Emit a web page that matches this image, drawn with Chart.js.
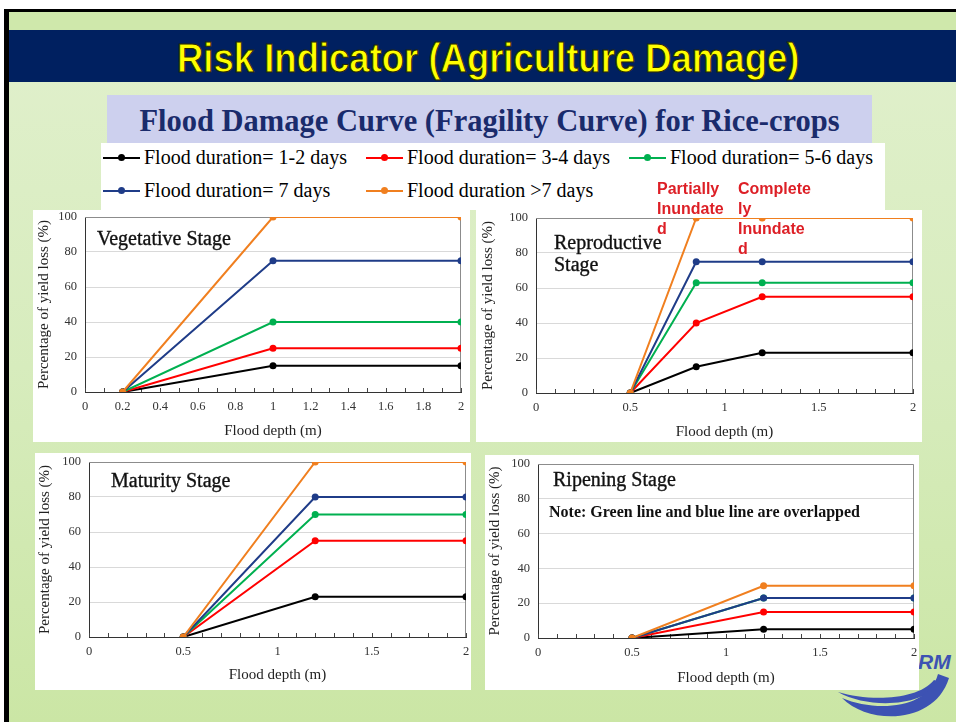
<!DOCTYPE html>
<html>
<head>
<meta charset="utf-8">
<script src="https://cdn.jsdelivr.net/npm/chart.js@4.4.0/dist/chart.umd.min.js"></script>
<style>
  body { margin: 0; width: 956px; height: 722px; overflow: hidden; position: relative; background: #fff; }
  .abs { position: absolute; }
  #frame { left: 4px; top: 9px; width: 952px; height: 713px; background: #000; }
  #bg { left: 9px; top: 12px; width: 947px; height: 710px; background: linear-gradient(to bottom, #e1f0cd 0%, #d7ecbd 50%, #cbe6a5 100%); }
  #strip { left: 9px; top: 12px; width: 947px; height: 18px; background: #cfe8ab; }
  #band { left: 9px; top: 30px; width: 947px; height: 52px; background: #002060; }
  #title { left: 15px; top: 30px; width: 947px; height: 52px; text-align: center;
           font: bold 40px "Liberation Sans", Arial, sans-serif; line-height: 56px; color: #ffff00; }
  #title span { display: inline-block; -webkit-text-stroke: 1px #2b2b00; transform-origin: 50% 50%; white-space: nowrap; }
  #sub { left: 107px; top: 95px; width: 765px; height: 48px; background: #cdd0ee; text-align: center;
         font: bold 30.5px "Liberation Serif", serif; line-height: 52px; color: #1a2b6c; white-space: nowrap; }
  #legend { left: 101px; top: 143px; width: 784px; height: 67px; background: #fff; }
  #legendGrid { position: absolute; left: 2px; top: -2px; display: grid; grid-template-columns: 263px 263px 263px; grid-auto-rows: 33px; }
  .item { display: flex; align-items: center; font: 20px "Liberation Serif", serif; color: #000; white-space: nowrap; }
  .swatch { position: relative; width: 37px; height: 2px; margin-right: 4px; }
  .swatch i { position: absolute; left: 15px; top: -2.5px; width: 7px; height: 7px; border-radius: 50%; }
  .panel { position: absolute; background: #fff; }
  .stage { position: absolute; font: 20px "Liberation Serif", serif; color: #111; white-space: nowrap; line-height: 20px;
           -webkit-text-stroke: 0.35px #111; }
  .note { position: absolute; font: bold 16px "Liberation Serif", serif; color: #111; white-space: nowrap; line-height: 16px; }
  .red { position: absolute; font: bold 16px "Liberation Sans", Arial, sans-serif; color: #dd1f26; line-height: 20px; z-index: 5; }
  #logoText { left: 918px; top: 650px; font: italic bold 21px "Liberation Sans", Arial, sans-serif; color: #3d52b3; }
</style>
</head>
<body>
<div class="abs" id="frame"></div>
<div class="abs" id="bg"></div>
<div class="abs" id="strip"></div>
<div class="abs" id="band"></div>
<div class="abs" id="title"><span id="titleText">Risk Indicator (Agriculture Damage)</span></div>
<div class="abs" id="sub">Flood Damage Curve (Fragility Curve) for Rice-crops</div>
<div class="abs" id="legend"><div id="legendGrid"></div></div>

<div class="abs" id="logoText">RM</div>
<svg class="abs" style="left:830px;top:640px" width="126" height="82">
  <path d="M 8 52 C 40 70 95 66 110 42 L 104 40 C 88 60 40 62 8 52 Z" fill="#3d52b3"/>
  <path d="M 12 58 C 40 86 105 84 119 38 L 108 34 C 98 70 45 72 12 58 Z" fill="#3d52b3"/>
</svg>

<div class="panel" style="left:33px;top:210px;width:437px;height:232px"><canvas id="veg" width="437" height="232"></canvas></div>
<div class="panel" style="left:476px;top:210px;width:446px;height:232px"><canvas id="rep" width="446" height="232"></canvas></div>
<div class="panel" style="left:35px;top:453px;width:436px;height:237px"><canvas id="mat" width="436" height="237"></canvas></div>
<div class="panel" style="left:485px;top:455px;width:434px;height:235px"><canvas id="rip" width="434" height="235"></canvas></div>

<div class="stage" style="left:97px;top:228px">Vegetative Stage</div>
<div class="stage" style="left:554px;top:231px;line-height:22px">Reproductive<br>Stage</div>
<div class="stage" style="left:111px;top:470px">Maturity Stage</div>
<div class="stage" style="left:553px;top:469px">Ripening Stage</div>
<div class="note" style="left:549px;top:504px">Note: Green line and blue line are overlapped</div>

<div class="red" style="left:657px;top:179px">Partially<br>Inundate<br>d</div>
<div class="red" style="left:738px;top:179px">Complete<br>ly<br>Inundate<br>d</div>

<script>
// series (flood duration)
const seriesNames = ['Flood duration= 1-2 days', 'Flood duration= 3-4 days', 'Flood duration= 5-6 days',
                     'Flood duration= 7 days', 'Flood duration >7 days'];
const seriesColors = ['#000000', '#ff0000', '#00b050', '#1f3c88', '#f07f1f'];

// Vegetative stage
const vegDepth = [0.2, 1, 2];
const vegLoss = [[0, 15, 15], [0, 25, 25], [0, 40, 40], [0, 75, 75], [0, 100, 100]];

// Reproductive stage
const repDepth = [0.5, 0.85, 1.2, 2];
const repLoss = [[0, 15, 23, 23], [0, 40, 55, 55], [0, 63, 63, 63], [0, 75, 75, 75], [0, 100, 100, 100]];

// Maturity stage
const matDepth = [0.5, 1.2, 2];
const matLoss = [[0, 23, 23], [0, 55, 55], [0, 70, 70], [0, 80, 80], [0, 100, 100]];

// Ripening stage (green and blue overlap)
const ripDepth = [0.5, 1.2, 2];
const ripLoss = [[0, 5, 5], [0, 15, 15], [0, 23, 23], [0, 23, 23], [0, 30, 30]];

// tick labels
const vegDepthLabels = ['0', '0.2', '0.4', '0.6', '0.8', '1', '1.2', '1.4', '1.6', '1.8', '2'];
const depthLabels = ['0', '0.5', '1', '1.5', '2'];
const lossLabels = ['0', '20', '40', '60', '80', '100'];

// squeeze the banner title to the narrow look of the slide
const tt = document.getElementById('titleText');
tt.style.transform = `scaleX(${622 / tt.offsetWidth})`;

// legend
const grid = document.getElementById('legendGrid');
seriesNames.forEach((name, i) => {
  const item = document.createElement('div');
  item.className = 'item';
  item.innerHTML = `<span class="swatch" style="background:${seriesColors[i]}"><i style="background:${seriesColors[i]}"></i></span>${name}`;
  grid.appendChild(item);
});

// gray frame on top/right of the plot, and small tick marks pointing into the plot
const plotFrame = {
  id: 'plotFrame',
  beforeDatasetsDraw(chart) {
    const {ctx, chartArea: a} = chart;
    const xs = chart.scales.x;
    ctx.save();
    ctx.strokeStyle = '#8c8c8c';
    ctx.lineWidth = 1;
    ctx.beginPath();
    ctx.moveTo(a.left, a.top + 0.5);
    ctx.lineTo(a.right - 0.5, a.top + 0.5);
    ctx.lineTo(a.right - 0.5, a.bottom);
    ctx.stroke();

    ctx.strokeStyle = '#444';
    ctx.beginPath();
    xs.ticks.forEach(t => {
      const px = Math.round(xs.getPixelForValue(t.value)) + 0.5;
      ctx.moveTo(px, a.bottom);
      ctx.lineTo(px, a.bottom - 4);
    });
    ctx.stroke();
    ctx.restore();
  }
};

const serif = 'Liberation Serif';

function makeChart(id, depth, loss, xLabels, box) {
  const datasets = loss.map((vals, i) => ({
    label: seriesNames[i],
    data: depth.map((d, j) => ({x: d, y: vals[j]})),
    borderColor: seriesColors[i],
    backgroundColor: seriesColors[i],
    borderWidth: 2,
    pointRadius: 3.5,
    pointBorderWidth: 0,
    showLine: true,
    order: loss.length - i
  }));

  new Chart(document.getElementById(id), {
    type: 'scatter',
    data: {datasets},
    options: {
      responsive: false,
      animation: false,
      layout: {padding: {left: 0, top: box.t, right: box.w - box.r, bottom: 0}},
      plugins: {legend: {display: false}, tooltip: {enabled: false}},
      scales: {
        x: {
          type: 'linear', min: 0, max: 2,
          afterFit: s => { s.height = box.h - box.b; s.paddingLeft = 0; s.paddingRight = 0; },
          ticks: {
            stepSize: 0.1, autoSkip: false, maxRotation: 0, padding: 7, color: '#333',
            font: {family: serif, size: 12.5},
            callback: v => {
              const s = String(Math.round(v * 10) / 10);
              return xLabels.includes(s) ? s : '';
            }
          },
          grid: {drawOnChartArea: false, drawTicks: false},
          border: {color: '#333'},
          title: {display: true, text: 'Flood depth (m)', color: '#222', font: {family: serif, size: 15},
                  padding: {top: 0, bottom: box.h - box.xt - 9}}
        },
        y: {
          min: 0, max: 100,
          afterFit: s => { s.width = box.l; s.paddingTop = 0; s.paddingBottom = 0; },
          ticks: {
            stepSize: 20, padding: 8, color: '#333', font: {family: serif, size: 12.5},
            callback: v => lossLabels.includes(String(v)) ? String(v) : ''
          },
          grid: {color: '#d9d9d9', drawTicks: false},
          border: {color: '#333'},
          title: {display: true, text: 'Percentage of yield loss (%)', color: '#222', font: {family: serif, size: 15},
                  padding: {top: box.yt - 9, bottom: 0}}
        }
      }
    },
    plugins: [plotFrame]
  });
}

makeChart('veg', vegDepth, vegLoss, vegDepthLabels, {w: 437, h: 232, l: 52, t: 7, r: 428, b: 182, xt: 221, yt: 11});
makeChart('rep', repDepth, repLoss, depthLabels, {w: 446, h: 232, l: 60, t: 8, r: 437, b: 183, xt: 222, yt: 12});
makeChart('mat', matDepth, matLoss, depthLabels, {w: 436, h: 237, l: 54, t: 9, r: 431, b: 184, xt: 222, yt: 10});
makeChart('rip', ripDepth, ripLoss, depthLabels, {w: 434, h: 235, l: 53, t: 9, r: 429, b: 183, xt: 223, yt: 10});
</script>
</body>
</html>
